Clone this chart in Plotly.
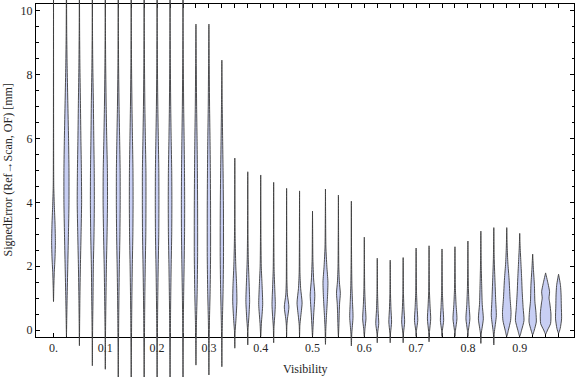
import plotly.graph_objects as go

# ---------------- data ----------------
VISIBILITY = [0.000, 0.025, 0.050, 0.075, 0.100, 0.125, 0.150, 0.175, 0.200, 0.225,
              0.250, 0.275, 0.300, 0.325, 0.350, 0.375, 0.400, 0.425, 0.450, 0.475,
              0.500, 0.525, 0.550, 0.575, 0.600, 0.625, 0.650, 0.675, 0.700, 0.725,
              0.750, 0.775, 0.800, 0.825, 0.850, 0.875, 0.900, 0.925, 0.950, 0.975]

X_TICK_VALUES = [0.0, 0.1, 0.2, 0.3, 0.4, 0.5, 0.6, 0.7, 0.8, 0.9]
X_TICK_LABELS = ["0.", "0.1", "0.2", "0.3", "0.4", "0.5", "0.6", "0.7", "0.8", "0.9"]
Y_TICK_VALUES = [0, 2, 4, 6, 8, 10]

# violin outline per visibility bin: (signed error [mm], relative density)
PROFILES = [
    [(0.89, 0), (1.3, 0.05), (1.8, 0.14), (2.3, 0.28), (2.75, 0.34), (3.3, 0.28), (3.9, 0.15), (4.5, 0.05), (6.0, 0.02), (11.5, 0)],
    [(-0.2, 0), (0.3, 0.05), (1.0, 0.12), (2.0, 0.24), (3.0, 0.36), (4.0, 0.46), (5.0, 0.46), (6.0, 0.38), (7.2, 0.24), (8.3, 0.12), (9.3, 0.05), (10.5, 0.02), (11.5, 0)],
    [(-0.49, 0), (0.2, 0.04), (1.0, 0.09), (2.0, 0.18), (3.0, 0.30), (4.0, 0.40), (5.0, 0.36), (6.0, 0.27), (7.2, 0.18), (8.3, 0.09), (9.3, 0.04), (11.5, 0)],
    [(-1.12, 0), (-0.3, 0.03), (0.5, 0.08), (1.0, 0.12), (2.0, 0.18), (3.0, 0.30), (4.0, 0.36), (5.0, 0.34), (6.0, 0.26), (7.2, 0.18), (8.3, 0.08), (9.3, 0.03), (11.5, 0)],
    [(-1.23, 0), (-0.3, 0.03), (0.5, 0.08), (1.0, 0.12), (2.0, 0.2), (3.0, 0.32), (4.0, 0.40), (5.0, 0.38), (6.0, 0.26), (7.0, 0.16), (8.3, 0.07), (9.3, 0.03), (11.5, 0)],
    [(-2.0, 0), (-0.8, 0.03), (0.3, 0.08), (1.0, 0.12), (2.0, 0.2), (3.0, 0.3), (4.0, 0.35), (5.0, 0.34), (6.0, 0.25), (7.0, 0.15), (8.3, 0.06), (9.3, 0.03), (11.5, 0)],
    [(-2.0, 0), (-0.8, 0.03), (0.3, 0.08), (1.0, 0.12), (2.0, 0.2), (3.0, 0.3), (4.0, 0.34), (5.0, 0.32), (6.0, 0.23), (7.0, 0.14), (8.3, 0.06), (9.3, 0.03), (11.5, 0)],
    [(-2.0, 0), (-0.8, 0.03), (0.3, 0.08), (1.0, 0.12), (2.0, 0.2), (3.0, 0.3), (4.0, 0.33), (5.0, 0.32), (6.0, 0.22), (7.0, 0.13), (8.3, 0.06), (9.3, 0.03), (11.5, 0)],
    [(-2.0, 0), (-0.8, 0.03), (0.3, 0.08), (1.0, 0.12), (2.0, 0.2), (3.0, 0.3), (4.0, 0.33), (5.0, 0.31), (6.0, 0.22), (7.0, 0.13), (8.3, 0.06), (9.3, 0.03), (11.5, 0)],
    [(-2.0, 0), (-0.8, 0.03), (0.3, 0.08), (1.0, 0.12), (2.0, 0.2), (3.0, 0.3), (4.0, 0.33), (5.0, 0.3), (6.0, 0.2), (7.0, 0.12), (8.3, 0.06), (9.3, 0.03), (11.5, 0)],
    [(-2.0, 0), (-0.8, 0.03), (0.3, 0.07), (1.0, 0.11), (2.0, 0.2), (3.0, 0.28), (4.0, 0.3), (5.0, 0.27), (6.0, 0.2), (7.0, 0.12), (8.3, 0.06), (9.3, 0.03), (11.5, 0)],
    [(-1.1, 0), (-0.3, 0.05), (0.3, 0.1), (1.2, 0.22), (2.3, 0.3), (3.8, 0.3), (5.0, 0.26), (6.0, 0.2), (7.0, 0.12), (8.3, 0.06), (9.59, 0)],
    [(-1.41, 0), (-0.5, 0.04), (0.3, 0.1), (1.2, 0.22), (2.3, 0.3), (3.8, 0.3), (5.0, 0.26), (6.0, 0.2), (7.0, 0.12), (8.3, 0.06), (9.59, 0)],
    [(-1.15, 0), (-0.4, 0.04), (0.3, 0.1), (1.2, 0.22), (2.3, 0.3), (3.8, 0.29), (5.0, 0.22), (6.0, 0.14), (7.0, 0.07), (8.46, 0)],
    [(-0.57, 0), (-0.1, 0.04), (0.3, 0.2), (0.9, 0.38), (1.4, 0.33), (2.0, 0.18), (2.7, 0.08), (3.5, 0.03), (5.39, 0)],
    [(-0.47, 0), (0.0, 0.04), (0.4, 0.2), (0.9, 0.34), (1.5, 0.24), (2.2, 0.10), (3.0, 0.04), (4.96, 0)],
    [(-0.2, 0), (0.2, 0.12), (0.8, 0.36), (1.4, 0.25), (2.0, 0.10), (3.0, 0.04), (4.86, 0)],
    [(-0.4, 0), (0.1, 0.06), (0.5, 0.22), (0.8, 0.30), (1.3, 0.20), (1.9, 0.08), (3.0, 0.03), (4.63, 0)],
    [(-0.2, 0), (0.15, 0.05), (0.35, 0.15), (0.72, 0.42), (1.1, 0.15), (1.5, 0.06), (2.5, 0.03), (4.44, 0)],
    [(-0.2, 0), (0.15, 0.06), (0.4, 0.20), (0.85, 0.46), (1.3, 0.20), (1.8, 0.07), (2.8, 0.03), (4.36, 0)],
    [(-0.2, 0), (0.1, 0.10), (0.5, 0.22), (1.1, 0.42), (1.6, 0.20), (2.2, 0.07), (3.0, 0.03), (3.73, 0)],
    [(-0.45, 0), (0.0, 0.06), (0.5, 0.20), (1.0, 0.36), (1.5, 0.45), (2.0, 0.25), (2.6, 0.08), (3.5, 0.03), (4.42, 0)],
    [(-0.2, 0), (0.2, 0.10), (0.6, 0.16), (0.85, 0.22), (1.15, 0.35), (1.5, 0.18), (2.0, 0.07), (3.0, 0.03), (4.23, 0)],
    [(-0.5, 0), (-0.1, 0.08), (0.4, 0.30), (0.9, 0.20), (1.4, 0.10), (2.2, 0.04), (4.04, 0)],
    [(-0.2, 0), (0.05, 0.12), (0.35, 0.30), (0.8, 0.17), (1.3, 0.07), (2.0, 0.03), (2.91, 0)],
    [(-0.4, 0), (-0.1, 0.06), (0.2, 0.27), (0.6, 0.15), (1.1, 0.06), (2.25, 0)],
    [(-0.4, 0), (-0.1, 0.06), (0.25, 0.25), (0.65, 0.14), (1.1, 0.06), (2.19, 0)],
    [(-0.4, 0), (-0.1, 0.06), (0.25, 0.27), (0.65, 0.15), (1.1, 0.06), (2.27, 0)],
    [(-0.2, 0), (0.0, 0.08), (0.3, 0.30), (0.7, 0.18), (1.2, 0.07), (2.57, 0)],
    [(-0.37, 0), (-0.05, 0.08), (0.35, 0.30), (0.75, 0.18), (1.2, 0.07), (2.64, 0)],
    [(-0.2, 0), (0.0, 0.08), (0.3, 0.30), (0.7, 0.18), (1.2, 0.07), (2.54, 0)],
    [(-0.2, 0), (0.0, 0.1), (0.35, 0.36), (0.8, 0.2), (1.3, 0.08), (2.61, 0)],
    [(-0.2, 0), (0.0, 0.1), (0.35, 0.36), (0.8, 0.2), (1.3, 0.09), (2.0, 0.03), (2.79, 0)],
    [(-0.42, 0), (-0.1, 0.08), (0.35, 0.45), (0.8, 0.25), (1.4, 0.15), (2.0, 0.07), (3.1, 0)],
    [(-0.47, 0), (-0.1, 0.08), (0.45, 0.46), (0.9, 0.35), (1.5, 0.22), (2.2, 0.08), (3.21, 0)],
    [(-0.2, 0), (0.0, 0.3), (0.3, 0.7), (0.55, 0.78), (1.0, 0.6), (1.6, 0.42), (2.1, 0.2), (2.6, 0.08), (3.21, 0)],
    [(-0.2, 0), (0.0, 0.35), (0.3, 0.78), (0.7, 0.62), (1.2, 0.45), (1.6, 0.36), (2.1, 0.22), (2.6, 0.08), (3.03, 0)],
    [(-0.15, 0), (0.0, 0.3), (0.25, 0.66), (0.55, 0.6), (0.9, 0.4), (1.4, 0.32), (1.9, 0.14), (2.38, 0)],
    [(-0.13, 0), (0.0, 0.35), (0.2, 0.9), (0.5, 0.97), (0.85, 0.75), (1.0, 0.62), (1.2, 0.72), (1.45, 0.45), (1.79, 0)],
    [(-0.1, 0), (0.05, 0.3), (0.35, 0.55), (0.75, 0.5), (1.1, 0.46), (1.4, 0.35), (1.75, 0)],
]

# ---------------- layout geometry ----------------
FIG_W, FIG_H = 576, 377
FRAME_L, FRAME_R, FRAME_T, FRAME_B = 36, 574, 4, 337
X_RANGE = [-0.0338, 1.0048]
Y_RANGE = [-0.219, 10.219]
HALF_WIDTH = 0.0106  # x-units for relative density 1

sx = (FRAME_R - FRAME_L) / (X_RANGE[1] - X_RANGE[0])
sy = (FRAME_B - FRAME_T) / (Y_RANGE[1] - Y_RANGE[0])
X2_RANGE = [X_RANGE[0] - FRAME_L / sx, X_RANGE[1] + (FIG_W - FRAME_R) / sx]
Y2_RANGE = [Y_RANGE[0] - (FIG_H - FRAME_B) / sy, Y_RANGE[1] + FRAME_T / sy]

FONT = "Liberation Serif, Times New Roman, serif"
TEXT_COLOR = "#262626"
FILL = "rgb(200,207,244)"
EDGE = "rgba(60,60,60,0.9)"

fig = go.Figure()

# invisible trace keeps the framed subplot alive
fig.add_trace(go.Scatter(x=[None], y=[None], xaxis="x", yaxis="y",
                         showlegend=False, hoverinfo="skip"))

for pos, prof in zip(VISIBILITY, PROFILES):
    ys = [p[0] for p in prof]
    ds = [p[1] for p in prof]
    xs = [pos + d * HALF_WIDTH for d in ds] + [pos - d * HALF_WIDTH for d in reversed(ds)]
    yy = ys + list(reversed(ys))
    fig.add_trace(go.Scatter(
        x=xs, y=yy, xaxis="x2", yaxis="y2", mode="lines",
        fill="toself", fillcolor=FILL,
        line=dict(color=EDGE, width=1, shape="spline", smoothing=0.6),
        showlegend=False, hoverinfo="skip"))

tick_text = []
for v in VISIBILITY:
    lab = ""
    for tv, tl in zip(X_TICK_VALUES, X_TICK_LABELS):
        if abs(tv - v) < 1e-9:
            lab = tl
    tick_text.append(lab)

fig.update_layout(
    width=FIG_W, height=FIG_H,
    margin=dict(l=0, r=0, t=0, b=0),
    paper_bgcolor="white", plot_bgcolor="rgba(0,0,0,0)",
    showlegend=False,
    font=dict(family=FONT, size=12, color=TEXT_COLOR),
    xaxis=dict(domain=[FRAME_L / FIG_W, FRAME_R / FIG_W], anchor="y",
               range=X_RANGE, showgrid=False, zeroline=False,
               showline=True, linecolor="black", linewidth=1, mirror="ticks",
               tickmode="array", tickvals=VISIBILITY, ticktext=tick_text,
               ticks="inside", ticklen=4, tickcolor="black", tickwidth=1,
               tickfont=dict(family=FONT, size=12, color=TEXT_COLOR)),
    yaxis=dict(domain=[1 - FRAME_B / FIG_H, 1 - FRAME_T / FIG_H], anchor="x",
               range=Y_RANGE, showgrid=False, zeroline=False,
               showline=True, linecolor="black", linewidth=1, mirror="ticks",
               tickmode="array", tickvals=Y_TICK_VALUES,
               ticks="inside", ticklen=4, tickcolor="black", tickwidth=1,
               minor=dict(dtick=0.5, tick0=0, ticks="inside", ticklen=2.5,
                          tickcolor="black", tickwidth=1, showgrid=False),
               tickfont=dict(family=FONT, size=12, color=TEXT_COLOR)),
    xaxis2=dict(domain=[0, 1], anchor="y2", range=X2_RANGE, visible=False,
                fixedrange=True),
    yaxis2=dict(domain=[0, 1], anchor="x2", range=Y2_RANGE, visible=False,
                fixedrange=True),
    annotations=[
        dict(text="Visibility", xref="paper", yref="paper",
             x=(FRAME_L + FRAME_R) / 2 / FIG_W, y=1 - 369 / FIG_H,
             xanchor="center", yanchor="middle", showarrow=False,
             font=dict(family=FONT, size=12, color=TEXT_COLOR)),
        dict(text="SignedError (Ref→Scan, OF) [mm]", xref="paper", yref="paper",
             x=7 / FIG_W, y=1 - (FRAME_T + FRAME_B) / 2 / FIG_H,
             xanchor="center", yanchor="middle", textangle=-90, showarrow=False,
             font=dict(family=FONT, size=12, color=TEXT_COLOR)),
    ],
)

fig.write_html("out.html",
               config={"displayModeBar": False, "staticPlot": True},
               post_script="document.body.style.margin='0px';"
                           "document.body.style.overflow='hidden';")
